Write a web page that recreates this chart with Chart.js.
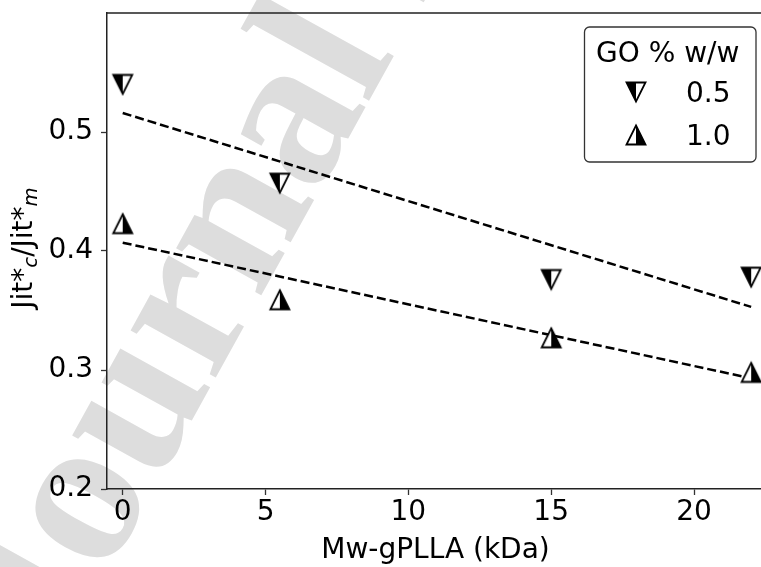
<!DOCTYPE html>
<html>
<head>
<meta charset="utf-8">
<script src="https://cdn.jsdelivr.net/npm/chart.js@4"></script>
<style>
  html, body { margin: 0; padding: 0; background: #fff; overflow: hidden; }
  #wrap { width: 775px; height: 567px; }
</style>
</head>
<body>
<div id="wrap"><canvas id="chart" width="775" height="567"></canvas></div>
<script>
// values
const xValues = [0, 5.5, 15, 22];
const go05 = [0.540, 0.457, 0.376, 0.378];
const go10 = [0.423, 0.359, 0.327, 0.298];
const fitX = [0, 22];
const fit05 = [0.516, 0.353];
const fit10 = [0.407, 0.293];
const xTicks = [0, 5, 10, 15, 20];
const yTicks = [0.2, 0.3, 0.4, 0.5];
const legendTitle = 'GO % w/w';
const legendLabels = ['0.5', '1.0'];

const FONT = 'DejaVu Sans';

// half filled triangle markers
function makeTriangle(dir) {
    const c = document.createElement('canvas');
    c.width = 24; c.height = 24;
    const g = c.getContext('2d');
    const pts = dir === 'down'
        ? [[2.5, 2.5], [21.5, 2.5], [12, 21.5]]
        : [[12, 2.5], [21.5, 21.5], [2.5, 21.5]];
    const half = dir === 'down'
        ? [[2.5, 2.5], [12, 2.5], [12, 21.5]]
        : [[12, 2.5], [21.5, 21.5], [12, 21.5]];
    const poly = (p) => {
        g.beginPath();
        g.moveTo(p[0][0], p[0][1]);
        for (let i = 1; i < p.length; i++) g.lineTo(p[i][0], p[i][1]);
        g.closePath();
    };
    g.fillStyle = '#fff'; poly(pts); g.fill();
    g.fillStyle = '#000'; poly(half); g.fill();
    g.strokeStyle = '#000'; g.lineWidth = 1.8; g.lineJoin = 'miter';
    poly(pts); g.stroke();
    return c;
}
const triDown = makeTriangle('down');
const triUp = makeTriangle('up');

const toXY = (xs, ys) => xs.map((x, i) => ({ x: x, y: ys[i] }));

const decorPlugin = {
    id: 'decor',
    beforeDraw(chart) {
        // watermark
        const ctx = chart.ctx;
        ctx.save();
        ctx.fillStyle = '#dddddd';
        ctx.font = 'bold 212px "Liberation Serif"';
        ctx.textBaseline = 'alphabetic';
        ctx.translate(53, 671);
        ctx.rotate(-61 * Math.PI / 180);
        ctx.fillText('Journal Pre-proof', 0, 0);
        ctx.restore();
    },
    beforeDatasetsDraw(chart) {
        const ctx = chart.ctx;
        const a = chart.chartArea;
        ctx.save();
        ctx.strokeStyle = '#222';
        ctx.lineWidth = 1.5;
        ctx.beginPath();
        ctx.moveTo(a.left, a.top);
        ctx.lineTo(a.right, a.top);
        ctx.lineTo(a.right, a.bottom);
        ctx.stroke();
        ctx.restore();
    },
    afterDraw(chart) {
        const ctx = chart.ctx;
        const a = chart.chartArea;
        ctx.save();
        ctx.fillStyle = '#000';
        ctx.font = '28px "' + FONT + '"';

        // x axis title
        ctx.textAlign = 'center';
        ctx.textBaseline = 'alphabetic';
        ctx.fillText('Mw-gPLLA (kDa)', (a.left + a.right) / 2, 558);

        // y axis title with subscripts
        const parts = [
            { t: 'Jit*', sub: false },
            { t: 'c', sub: true },
            { t: '/Jit*', sub: false },
            { t: 'm', sub: true }
        ];
        const mainFont = '28px "' + FONT + '"';
        const subFont = 'italic 19.6px "' + FONT + '"';
        let total = 0;
        parts.forEach(p => {
            ctx.font = p.sub ? subFont : mainFont;
            p.w = ctx.measureText(p.t).width;
            total += p.w;
        });
        ctx.translate(32, (a.top + a.bottom) / 2 - 3);
        ctx.rotate(-Math.PI / 2);
        ctx.textAlign = 'left';
        let cx = -total / 2;
        parts.forEach(p => {
            ctx.font = p.sub ? subFont : mainFont;
            ctx.fillText(p.t, cx, p.sub ? 5 : 0);
            cx += p.w;
        });
        ctx.restore();

        // legend
        ctx.save();
        const bx = 584.5, by = 27, bw = 171.5, bh = 135;
        ctx.fillStyle = '#fff';
        ctx.strokeStyle = '#333';
        ctx.lineWidth = 1.3;
        ctx.beginPath();
        ctx.roundRect(bx, by, bw, bh, 5);
        ctx.fill();
        ctx.stroke();
        ctx.fillStyle = '#000';
        ctx.font = '28px "' + FONT + '"';
        ctx.textBaseline = 'alphabetic';
        ctx.textAlign = 'left';
        ctx.fillText(legendTitle, 596, 62);
        const icons = [triDown, triUp];
        const rows = [92, 135];
        legendLabels.forEach((lab, i) => {
            ctx.drawImage(icons[i], 636 - 12, rows[i] - 12);
            ctx.fillText(lab, 686, rows[i] + 10);
        });
        ctx.restore();
    }
};

const tickFont = { family: FONT, size: 28 };

new Chart(document.getElementById('chart'), {
    type: 'scatter',
    data: {
        datasets: [
            {
                label: legendLabels[0],
                data: toXY(xValues, go05),
                pointStyle: triDown,
                pointRadius: 10,
                showLine: false
            },
            {
                label: legendLabels[1],
                data: toXY(xValues, go10),
                pointStyle: triUp,
                pointRadius: 10,
                showLine: false
            },
            {
                type: 'line',
                data: toXY(fitX, fit05),
                borderColor: '#000',
                borderWidth: 2.5,
                borderDash: [9, 4],
                pointRadius: 0,
                fill: false
            },
            {
                type: 'line',
                data: toXY(fitX, fit10),
                borderColor: '#000',
                borderWidth: 2.5,
                borderDash: [9, 4],
                pointRadius: 0,
                fill: false
            }
        ]
    },
    options: {
        responsive: false,
        devicePixelRatio: 1,
        animation: false,
        layout: { padding: { top: 13, right: 6, left: 0, bottom: 0 } },
        plugins: {
            legend: { display: false },
            tooltip: { enabled: false },
            title: { display: false }
        },
        scales: {
            x: {
                type: 'linear',
                min: -0.55,
                max: 22.45,
                afterBuildTicks: s => { s.ticks = xTicks.map(v => ({ value: v })); },
                afterFit: s => { s.height = 78; s.paddingLeft = 0; s.paddingRight = 0; },
                ticks: { font: tickFont, color: '#000', padding: 1, callback: v => String(v) },
                grid: { display: true, drawOnChartArea: false, drawTicks: true, tickLength: 6, tickColor: '#333', tickWidth: 1.3 },
                border: { display: true, color: '#222', width: 1.5 }
            },
            y: {
                type: 'linear',
                min: 0.2,
                max: 0.6,
                afterBuildTicks: s => { s.ticks = yTicks.map(v => ({ value: v })); },
                afterFit: s => { s.width = 107; s.paddingTop = 0; s.paddingBottom = 0; },
                ticks: { font: tickFont, color: '#000', padding: 8, callback: v => v.toFixed(1) },
                grid: { display: true, drawOnChartArea: false, drawTicks: true, tickLength: 6, tickColor: '#333', tickWidth: 1.3 },
                border: { display: true, color: '#222', width: 1.5 }
            }
        }
    },
    plugins: [decorPlugin]
});
</script>
</body>
</html>
